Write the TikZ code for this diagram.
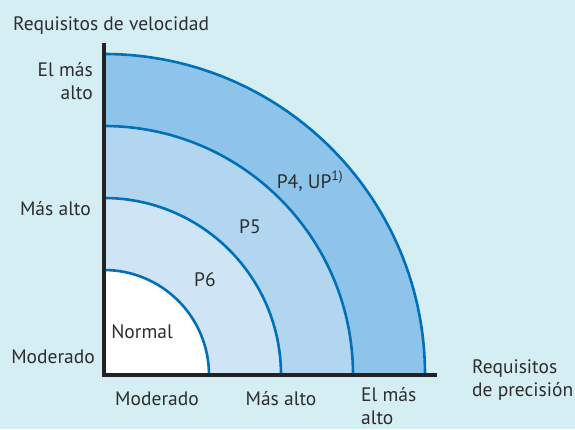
\documentclass[tikz,border=0pt]{standalone}
\usepackage{fontspec}
\setmainfont{PT Sans}
\usetikzlibrary{positioning}
\definecolor{bgcyan}{RGB}{212,238,243}
\definecolor{bandA}{RGB}{143,196,234}
\definecolor{bandB}{RGB}{178,214,240}
\definecolor{bandC}{RGB}{207,229,246}
\definecolor{arcblue}{RGB}{0,112,184}
\definecolor{axisblack}{RGB}{34,34,34}
\definecolor{txt}{RGB}{45,45,45}

\begin{document}
\begin{tikzpicture}[x=1pt,y=1pt,
    lbl/.style={font=\fontsize{19.5}{23}\selectfont,text=txt,inner sep=0pt},
    ring/.style={arcblue,line width=2.6pt}]
  \fill[bgcyan] (0,0) rectangle (575,429);
  \useasboundingbox (0,0) rectangle (575,429);
  \coordinate (o) at (104,54);
  \coordinate (ytop) at (104,386);
  \coordinate (xend) at (437,54);
  % bands, outer first
  \fill[bandA] (o) -- ([xshift=321]o) arc (0:90:321) -- cycle;
  \fill[bandB] (o) -- ([xshift=249]o) arc (0:90:249) -- cycle;
  \fill[bandC] (o) -- ([xshift=177]o) arc (0:90:177) -- cycle;
  \fill[white] (o) -- ([xshift=105]o) arc (0:90:105) -- cycle;
  \foreach \r in {105,177,249,321}
    \draw[ring] ([xshift=\r]o) arc (0:90:\r);
  % axes
  \draw[axisblack,line width=3.6pt] (ytop) -- (o) -- (xend);
  % axis titles
  \node[lbl,anchor=base west] (vtitle) at (13,398) {Requisitos de velocidad};
  \node[lbl,anchor=west,align=left] (htitle) at (472,49) {Requisitos\\de precisión};
  % speed levels
  \node[lbl,anchor=east,align=right] (vtop) at (93,348) {El más\\alto};
  \node[lbl,anchor=east] (vmid) at (91,220) {Más alto};
  \node[lbl,anchor=east] (vlow) at (95,72) {Moderado};
  % precision levels
  \node[lbl] (hlow) at (157,30) {Moderado};
  \node[lbl] (hmid) at (281,30) {Más alto};
  \node[lbl,anchor=west,align=left] (htop) at (361,23) {El más\\alto};
  % classes
  \node[lbl] (normal) at (142,97) {Normal};
  \node[lbl] (psix) at (205,149) {P6};
  \node[lbl] (pfive) at (250,202) {P5};
  \node[lbl] (pfour) at (310,248) {P4, UP\textsuperscript{1)}};
\end{tikzpicture}
\end{document}
